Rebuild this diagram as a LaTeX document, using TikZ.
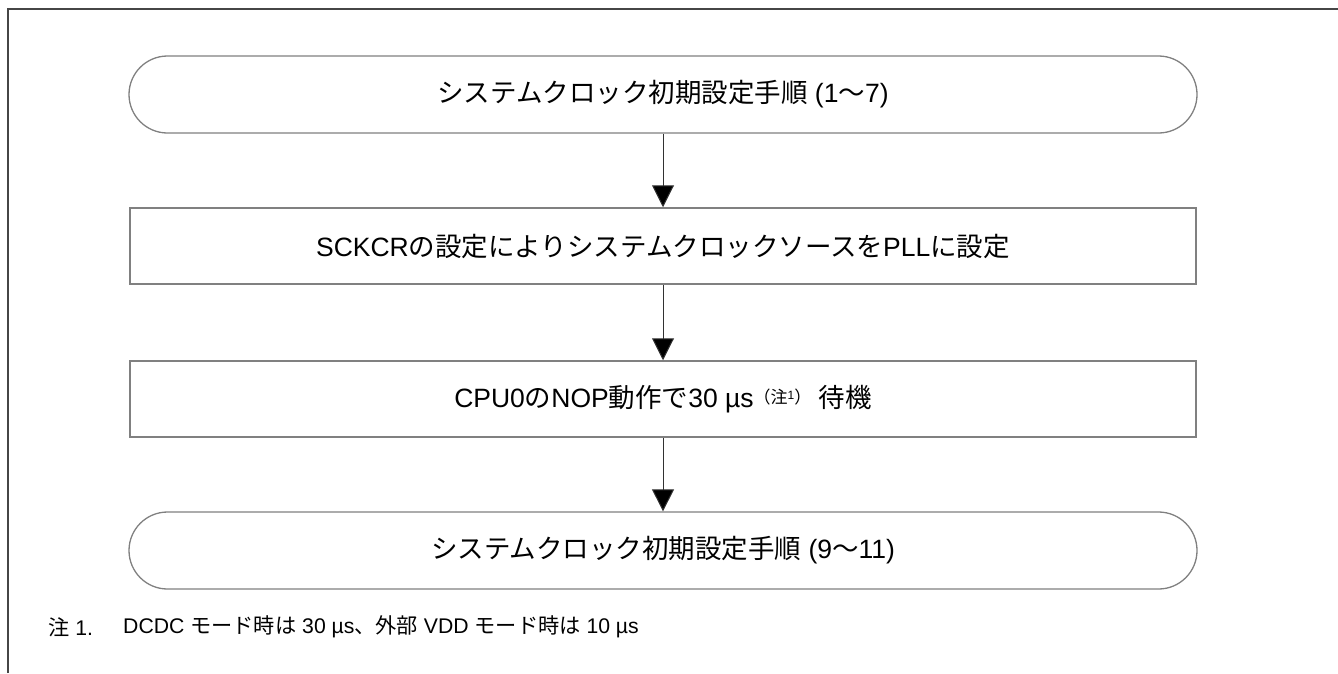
\documentclass[tikz,border=0pt]{standalone}
\usepackage{fontspec}
\setmainfont{Liberation Sans}
\newfontfamily\jpfont{Noto Sans CJK JP}
\newcommand{\jpn}[1]{{\jpfont #1}}
\usetikzlibrary{arrows.meta}
\definecolor{edgegray}{RGB}{128,128,128}
\definecolor{framegray}{RGB}{70,70,70}
\definecolor{arrowgray}{RGB}{50,50,50}
\tikzset{
  term/.style={draw=edgegray, line width=1.3pt, rounded corners=38.5pt,
    minimum width=1068pt, minimum height=77pt, inner sep=0pt,
    font=\fontsize{26.5pt}{30pt}\selectfont},
  procbox/.style={draw=edgegray, line width=1.5pt,
    minimum width=1066pt, minimum height=76pt, inner sep=0pt,
    font=\fontsize{26.5pt}{30pt}\selectfont},
  flow/.style={draw=arrowgray, line width=1pt,
    -{Triangle[width=22pt,length=22pt,fill=black]}},
  note/.style={anchor=west, inner sep=0pt, font=\fontsize{21.2pt}{24pt}\selectfont},
  frame/.style={draw=framegray, line width=2pt}
}
\begin{document}
\begin{tikzpicture}[x=1pt,y=-1pt]
\useasboundingbox (0,0) rectangle (1338,673);
\coordinate (fa) at (8,673);
\coordinate (fb) at (8,9);
\coordinate (fc) at (1338,9);
\draw[frame] (fa) -- (fb) -- (fc);

\node[term] (t1) at (663,94.5) {\jpn{システムクロック初期設定手順} (1\jpn{〜}7)};
\node[procbox] (b1) at (663,246) {SCKCR\jpn{の設定によりシステムクロックソースを}PLL\jpn{に設定}};
\node[procbox] (b2) at (663,399) {CPU0\jpn{の}NOP\jpn{動作で}30 µs{\fontsize{17pt}{17pt}\selectfont\raisebox{4pt}{\jpn{（注}\raisebox{3.5pt}{\fontsize{12pt}{12pt}\selectfont 1}\jpn{）}}} \jpn{待機}};
\node[term] (t2) at (663,550.5) {\jpn{システムクロック初期設定手順} (9\jpn{〜}11)};

\draw[flow] (t1) -- (b1);
\draw[flow] (b1) -- (b2);
\draw[flow] (b2) -- (t2);

\node[note] (fnlabel) at (48,627) {\jpn{注} 1.};
\node[note] (fntext) at (123,627) {DCDC \jpn{モード時は} 30 µs\jpn{、外部} VDD \jpn{モード時は} 10 µs};
\end{tikzpicture}
\end{document}
